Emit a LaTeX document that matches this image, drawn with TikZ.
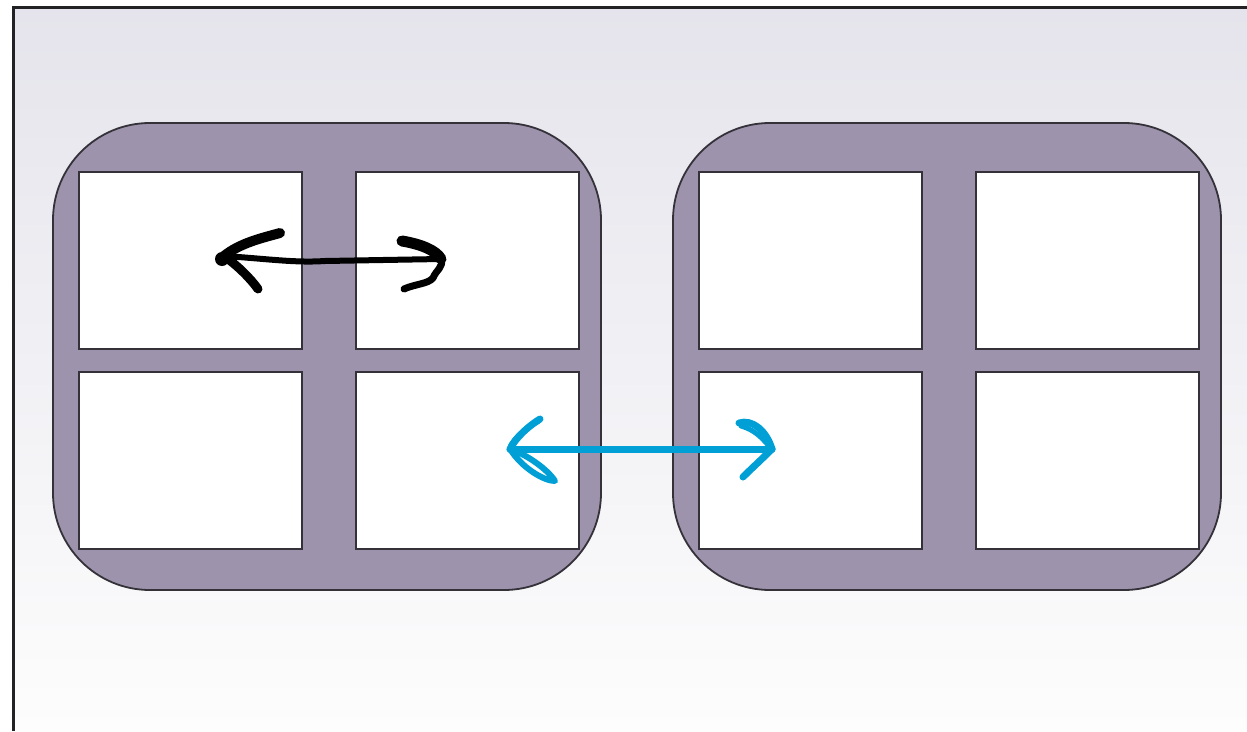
\documentclass[tikz,border=0pt]{standalone}
\definecolor{panetop}{RGB}{229,228,236}
\definecolor{panebot}{RGB}{253,253,253}
\definecolor{sash}{RGB}{158,147,173}
\definecolor{edge}{RGB}{52,50,56}
\definecolor{frameline}{RGB}{34,34,36}
\definecolor{swapblue}{RGB}{0,160,214}
\tikzset{
  window/.style={draw=edge, fill=sash, line width=1.8pt, rounded corners=97pt,
    minimum width=548pt, minimum height=467pt, inner sep=0pt, outer sep=0pt},
  pane/.style={draw=edge, fill=white, line width=1.8pt,
    minimum width=223pt, minimum height=177pt, inner sep=0pt, outer sep=0pt},
  ink/.style={line cap=round, line join=round},
}
\begin{document}
\begin{tikzpicture}[x=1pt,y=-1pt]
\useasboundingbox (0,0) rectangle (1247,731);
% backdrop panel
\shade[top color=panetop, bottom color=panebot] (13,7) rectangle (1247,731);
\draw[frameline, line width=3pt] (13,731) -- (13,7) -- (1247,7);

% two windows, four panes each
\node[window] (w1) at (327,356.5) {};
\node[window] (w2) at (947,356.5) {};
\node[pane] (a1) at (190.5,260.5) {};
\node[pane] (a2) at (467.5,260.5) {};
\node[pane] (a3) at (190.5,460.5) {};
\node[pane] (a4) at (467.5,460.5) {};
\node[pane] (b1) at (810.5,260.5) {};
\node[pane] (b2) at (1087.5,260.5) {};
\node[pane] (b3) at (810.5,460.5) {};
\node[pane] (b4) at (1087.5,460.5) {};

% swap within the left window (black ink)
\coordinate (kL) at (224,256);
\coordinate (kR) at (441,259);
\draw[ink, black, line width=6pt] (kL) .. controls (270,259) and (295,263) .. (325,261) -- (kR);
\draw[ink, black, line width=10pt] (280,233) .. controls (262,238) and (240,243) .. (kL);
\draw[ink, black, line width=9pt] (kL) .. controls (238,266) and (250,278) .. (258,289);
\fill[black] (222,259) circle (7pt);
\draw[ink, black, line width=11pt] (402,241) .. controls (420,244) and (436,250) .. (kR);
\draw[ink, black, line width=7pt] (kR) .. controls (444,267) and (436,270) .. (433,278)
  .. controls (428,284) and (415,284) .. (404,289);

% swap between the windows (blue ink)
\coordinate (sL) at (510,449);
\coordinate (sR) at (772,449);
\draw[ink, swapblue, line width=7pt] (sL) -- (sR);
\draw[ink, swapblue, line width=7pt] (540,419) .. controls (530,425) and (516,437) .. (sL);
\draw[ink, swapblue, line width=6pt] (538,421) .. controls (524,429) and (514,440) .. (511,446);
\draw[ink, swapblue, line width=6pt] (sL) .. controls (528,455) and (548,470) .. (555,481)
  .. controls (544,481) and (522,468) .. (sL);
\draw[ink, swapblue, line width=7pt] (739,423) .. controls (752,419) and (766,430) .. (sR);
\draw[ink, swapblue, line width=5pt] (741,426) .. controls (755,430) and (762,438) .. (769,446);
\draw[ink, swapblue, line width=7pt] (sR) .. controls (762,459) and (750,470) .. (743,477);
\end{tikzpicture}
\end{document}
